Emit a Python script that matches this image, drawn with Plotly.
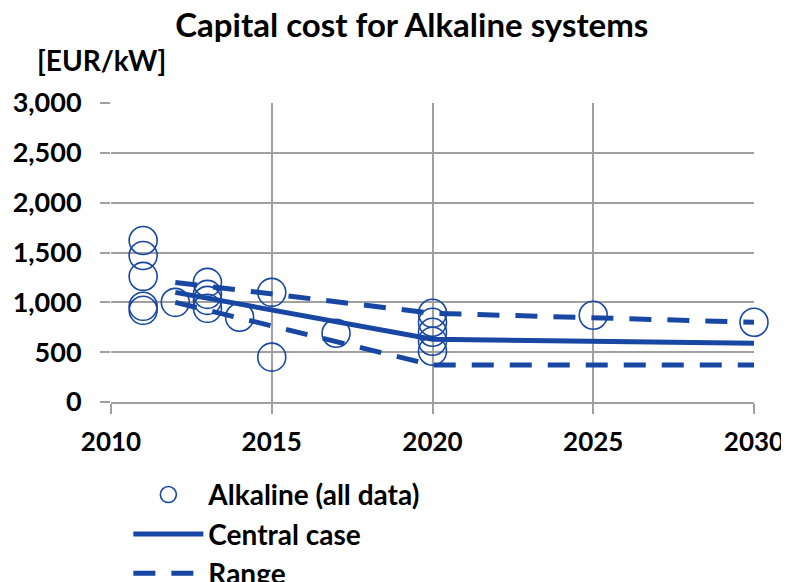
"""Capital cost for Alkaline systems chart."""

import plotly.graph_objects as go

# observed data points (year, EUR/kW)
data_years = [2011, 2011, 2011, 2011, 2011,
              2012,
              2013, 2013, 2013, 2013,
              2014,
              2015, 2015,
              2017,
              2020, 2020, 2020, 2020, 2020,
              2025,
              2030]
data_cost = [1620, 1470, 1260, 960, 920,
             1000,
             1200, 1080, 1020, 940,
             850,
             1100, 450,
             690,
             890, 800, 700, 610, 510,
             870,
             800]

case_years = [2012, 2020, 2030]
central_cost = [1100, 630, 590]
upper_cost = [1200, 890, 800]
lower_cost = [1000, 370, 370]

x_ticks = [2010, 2015, 2020, 2025, 2030]
y_ticks = [0, 500, 1000, 1500, 2000, 2500, 3000]

BLUE = "#1747a3"
GRID = "#a0a0a0"
FONT = "Lato"

fig = go.Figure()
fig.add_trace(go.Scatter(
    x=data_years, y=data_cost, mode="markers", name="Alkaline (all data)",
    marker={"symbol": "circle-open", "size": 28, "color": BLUE,
            "line": {"width": 1.6, "color": BLUE}},
    cliponaxis=False,
))
fig.add_trace(go.Scatter(
    x=case_years, y=central_cost, mode="lines", name="Central case",
    line={"color": BLUE, "width": 5},
    cliponaxis=False,
))
fig.add_trace(go.Scatter(
    x=case_years, y=upper_cost, mode="lines", name="Range",
    line={"color": BLUE, "width": 5, "dash": "22px,16px"},
    legendgroup="range", cliponaxis=False,
))
fig.add_trace(go.Scatter(
    x=case_years, y=lower_cost, mode="lines", name="Range",
    line={"color": BLUE, "width": 5, "dash": "22px,16px"},
    legendgroup="range", showlegend=False, cliponaxis=False,
))

# page body adds an 8px offset, so the figure is 8px smaller each way
fig.update_layout(
    width=781, height=574,
    margin={"l": 103, "r": 35, "t": 95, "b": 180, "autoexpand": False},
    paper_bgcolor="white", plot_bgcolor="white",
    font={"family": FONT, "color": "black", "size": 27},
    title={"text": "<b>Capital cost for Alkaline systems</b>",
           "x": 0.517, "xanchor": "center", "y": 0.970, "yanchor": "middle",
           "font": {"size": 33, "family": FONT}},
    legend={"x": 0.027, "xanchor": "left", "y": -0.227, "yanchor": "top",
            "font": {"size": 28, "family": FONT, "weight": "bold"},
            "itemwidth": 70, "tracegroupgap": 0,
            "bgcolor": "rgba(0,0,0,0)"},
    annotations=[{"text": "<b>[EUR/kW]</b>", "xref": "paper", "yref": "paper",
                  "x": -0.118, "xanchor": "left", "y": 1.144, "yanchor": "middle",
                  "showarrow": False, "font": {"size": 28, "family": FONT}}],
)
fig.update_xaxes(
    range=[2010, 2030], tickvals=x_ticks, ticktext=[f"<b>{v}</b>" for v in x_ticks],
    tickfont={"size": 26},
    showgrid=True, gridcolor=GRID, gridwidth=1.5,
    showline=True, linecolor=GRID, linewidth=1.5,
    ticks="outside", ticklen=10, tickcolor=GRID, tickwidth=1.5,
    ticklabelstandoff=6, zeroline=False,
)
fig.update_yaxes(
    range=[0, 3000], tickvals=y_ticks, ticktext=[f"<b>{v:,}</b>" for v in y_ticks],
    tickfont={"size": 27},
    showgrid=True, gridcolor=GRID, gridwidth=1.5,
    showline=False,
    ticks="outside", ticklen=10, tickcolor=GRID, tickwidth=1.5,
    ticklabelstandoff=13, zeroline=False,
)

fig.write_html("out.html")
